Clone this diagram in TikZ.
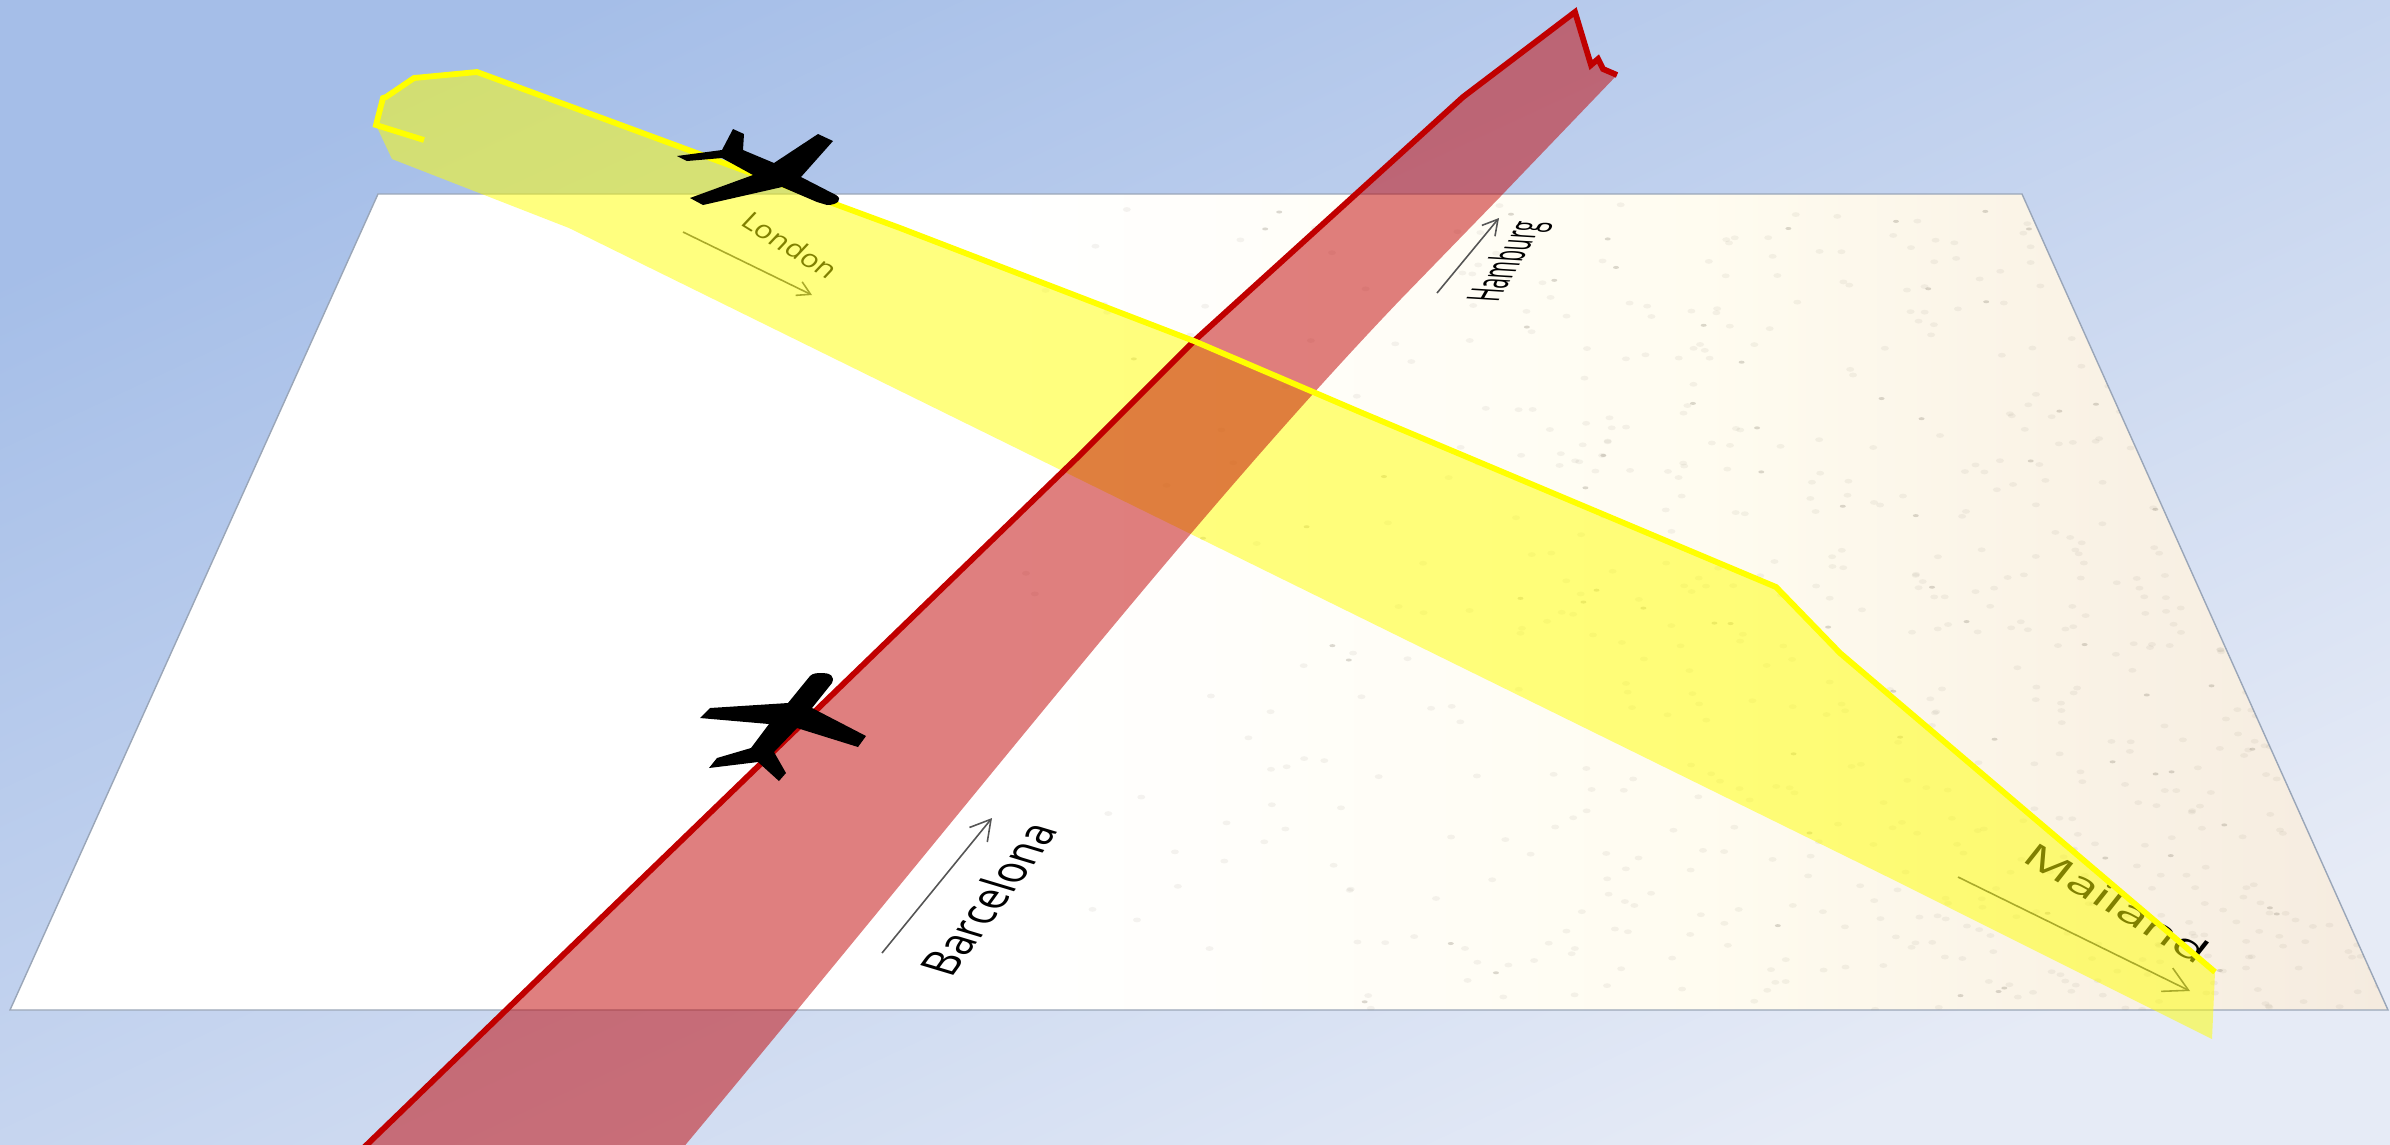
\documentclass[tikz,border=0pt]{standalone}
\usepackage{fontspec}
\setmainfont{Open Sans}
\usepackage{xcolor}
\usepackage{tikz}
\usetikzlibrary{arrows.meta}
\definecolor{skytop}{HTML}{A5BEE8}
\definecolor{skylow}{HTML}{E6EBF6}
\definecolor{mapedge}{HTML}{9AA6B8}
\definecolor{mapa}{HTML}{FFFCF0}
\definecolor{mapb}{HTML}{FAF3E6}
\definecolor{mapc}{HTML}{F5EBDF}
\definecolor{speckle}{HTML}{8A8272}
\definecolor{hamburgred}{HTML}{C00000}
\definecolor{routeyellow}{HTML}{FFFF00}
\definecolor{arrowgrey}{HTML}{555555}
\pgfdeclarehorizontalshading{mapshade}{100bp}{color(0bp)=(white); color(46bp)=(white); color(60.5bp)=(mapa); color(68bp)=(mapb); color(75bp)=(mapc); color(100bp)=(mapc)}

\begin{document}
\begin{tikzpicture}[
  x=0.01cm, y=-0.01cm,
  cityname/.style={inner sep=0pt, text=black},
  cityarrow/.style={draw=arrowgrey, line width=0.45pt},
  routefill/.style={draw=none, fill opacity=0.5},
  routeline/.style={line width=0.058cm, line join=miter, fill=none},
  plane/.style={fill=black, draw=none}
]
\clip (0,0) rectangle (2390,1144);
\path[top color=skytop, bottom color=skylow, shading angle=25] (0,0) rectangle (2390,1144);

\path[shading=mapshade, draw=mapedge, line width=0.4pt] (378,194) -- (2022,194) -- (2388,1010) -- (10,1010) -- cycle;
\begin{scope}
\clip (378,194) -- (2022,194) -- (2388,1010) -- (10,1010) -- cycle;
\pgfmathsetseed{17}
\foreach \i in {1,...,800} {
  \pgfmathsetmacro{\specx}{1000+1388*sqrt(rnd)}
  \pgfmathsetmacro{\specy}{194+816*rnd}
  \fill[speckle, opacity=0.09] (\specx,\specy) ellipse (4 and 2.4);
}
\foreach \i in {1,...,90} {
  \pgfmathsetmacro{\specx}{1100+1288*sqrt(rnd)}
  \pgfmathsetmacro{\specy}{194+816*rnd}
  \fill[speckle, opacity=0.3] (\specx,\specy) ellipse (3 and 1.5);
}
\end{scope}

\node[cityname, font=\fontsize{7.4}{8}\selectfont, rotate=-32, xslant=0.2, xscale=1.12] (lon) at (790,245) {London};
\node[cityname, font=\fontsize{13}{14}\selectfont, rotate=54, xslant=-0.35, xscale=0.86] (bcn) at (988,899) {Barcelona};
\node[cityname, font=\fontsize{11.5}{12}\selectfont, rotate=60, xslant=-0.5, xscale=0.52] (ham) at (1509,262) {Hamburg};
\node[cityname, font=\fontsize{13}{13}\selectfont, rotate=-30.5, xslant=0.14, xscale=1.2, yscale=0.74] (mai) at (2117,903) {Mailand};

\coordinate (lona) at (683,232);
\coordinate (lonb) at (812,295);
\coordinate (bcna) at (882,953);
\coordinate (bcnb) at (992,818);
\coordinate (hama) at (1437,293);
\coordinate (hamb) at (1499,218);
\coordinate (maia) at (1958,877);
\coordinate (maib) at (2190,991);
\draw[cityarrow, -{Straight Barb[length=1.3mm,width=1.5mm]}] (lona) -- (lonb);
\draw[cityarrow, -{Straight Barb[length=2mm,width=2.3mm]}] (bcna) -- (bcnb);
\draw[cityarrow, -{Straight Barb[length=1.5mm,width=1.7mm]}] (hama) -- (hamb);
\draw[cityarrow, -{Straight Barb[length=2.4mm,width=2.6mm]}] (maia) -- (maib);

\fill[routefill, routeyellow] (376,125) -- (392,159) -- (569,228) -- (1900,883) -- (2212,1039) -- (2215,972) -- (1840,653) -- (1776,587) -- (1360,412) -- (1194,341) -- (900,228) -- (477,72) -- (414,78) -- (386,97) -- (383,98) -- cycle;
\fill[routefill, hamburgred] (350,1161) -- (672,1161) .. controls (990,780) and (1190,520) .. (1400,300) -- (1500,197) -- (1617,75) -- (1603,69) -- (1598,59) -- (1591,65) -- (1575,12) -- (1463,97) -- (1194,341) -- (1080,455) -- cycle;
\draw[routeline, hamburgred] (350,1161) -- (1080,455) -- (1194,341) -- (1463,97) -- (1575,12) -- (1591,65) -- (1598,59) -- (1603,69) -- (1617,75);
\draw[routeline, routeyellow] (424,140) -- (376,125) -- (383,98) -- (386,97) -- (414,78) -- (477,72) -- (900,228) -- (1194,341) -- (1360,412) -- (1776,587) -- (1840,653) -- (2215,972);

\fill[plane] (733,129) -- (744,134) -- (743,150) -- (774,163) -- (818,134) -- (833,141) -- (801,177) -- (836,195) .. controls (843,199) and (838,205) .. (827,205) -- (817,202) -- (782,187) -- (703,205) -- (690,198) -- (753,175) -- (722,158) -- (687,161) -- (677,156) -- (722,150) -- cycle;
\fill[plane] (832,683) .. controls (835,676) and (830,673) .. (823,673) .. controls (817,673) and (813,673) .. (810,676) -- (788,703) -- (710,708) -- (700,718) -- (769,724) -- (751,748) -- (717,758) -- (709,768) -- (758,762) -- (779,781) -- (786,773) -- (774,752) -- (797,728) -- (858,747) -- (866,736) -- (812,708) -- cycle;
\end{tikzpicture}
\end{document}
